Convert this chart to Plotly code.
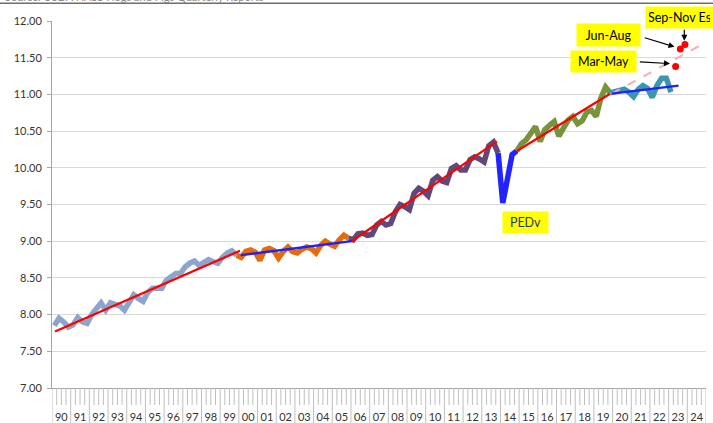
import plotly.graph_objects as go

# ---------------- data ----------------
years = list(range(1990, 2025))
year_labels = [f"{y % 100:02d}" for y in years]
quarters_per_year = 4  # Dec-Feb, Mar-May, Jun-Aug, Sep-Nov

# pigs per litter, quarterly, 1990 Dec-Feb .. 2023 Dec-Feb
pigs_per_litter = [
    7.85, 7.95, 7.90, 7.83,    # 1990
    7.86, 7.96, 7.90, 7.88,    # 1991
    8.00, 8.08, 8.16, 8.06,    # 1992
    8.16, 8.14, 8.12, 8.06,    # 1993
    8.15, 8.27, 8.22, 8.18,    # 1994
    8.30, 8.36, 8.36, 8.36,    # 1995
    8.47, 8.52, 8.56, 8.56,    # 1996
    8.65, 8.70, 8.73, 8.67,    # 1997
    8.71, 8.75, 8.72, 8.70,    # 1998
    8.78, 8.84, 8.87, 8.81,    # 1999
    8.78, 8.86, 8.88, 8.85,    # 2000
    8.74, 8.88, 8.90, 8.87,    # 2001
    8.77, 8.86, 8.92, 8.86,    # 2002
    8.84, 8.89, 8.92, 8.90,    # 2003
    8.84, 8.94, 9.00, 8.96,    # 2004
    8.93, 9.02, 9.08, 9.04,    # 2005
    9.02, 9.10, 9.11, 9.08,    # 2006
    9.09, 9.22, 9.27, 9.22,    # 2007
    9.24, 9.40, 9.50, 9.47,    # 2008
    9.43, 9.65, 9.72, 9.68,    # 2009
    9.62, 9.83, 9.88, 9.82,    # 2010
    9.80, 9.99, 10.03, 9.97,   # 2011
    9.97, 10.11, 10.15, 10.12, # 2012
    10.08, 10.30, 10.35, 10.20,# 2013
    9.52, 9.85, 10.18, 10.23,  # 2014
    10.33, 10.38, 10.47, 10.56,# 2015
    10.36, 10.52, 10.58, 10.63,# 2016
    10.43, 10.53, 10.65, 10.70,# 2017
    10.60, 10.64, 10.76, 10.78,# 2018
    10.70, 10.95, 11.10, 11.02,# 2019
    11.04, 11.06, 11.07, 11.03,# 2020
    10.97, 11.07, 11.12, 11.08,# 2021
    10.96, 11.12, 11.22, 11.22,# 2022
    11.03,                     # 2023
]

# coloured periods: (first index, last index) into pigs_per_litter
period_start = [0, 39, 63, 95, 99, 119]
period_end = [39, 63, 95, 99, 119, 132]

# trend lines (x in years, y in pigs per litter)
trend_red_x = [[1990.16, 2000.06], [2006.04, 2013.81], [2014.88, 2019.87]]
trend_red_y = [[7.77, 8.87], [9.00, 10.36], [10.23, 11.01]]
trend_blue_x = [[2000.10, 2006.04], [2019.96, 2023.53]]
trend_blue_y = [[8.81, 9.00], [11.01, 11.12]]
trend_proj_x = [2019.96, 2025.0]
trend_proj_y = [11.01, 11.71]

# 2023 estimates
est_labels = ["Mar-May", "Jun-Aug", "Sep-Nov Es"]
est_quarter = [1, 2, 3]
est_year = 2023
est_values = [11.38, 11.62, 11.68]

# ---------------- styles ----------------
period_colors = ["#8CA5CD", "#E46C0A", "#60497A", "#2323FF", "#77933C", "#3C96AF"]
FONT = "Lato, 'Liberation Sans', Arial, sans-serif"

W, H = 713, 423
ML, MR, MT, MB = 52, 7, 21, 35
PW, PH = W - ML - MR, H - MT - MB
X0, X1 = 1990, 2025
Y0, Y1 = 7.0, 12.0


def xp(px):
    return (px - ML) / PW


def yp(py):
    return 1 - (py - MT) / PH


qx = [years[0] + (i + 0.5) / quarters_per_year for i in range(len(pigs_per_litter))]

fig = go.Figure()

for s, e, c in zip(period_start, period_end, period_colors):
    fig.add_trace(go.Scatter(
        x=qx[s:e + 1], y=pigs_per_litter[s:e + 1], mode="lines",
        line=dict(color=c, width=5.5), hoverinfo="skip", showlegend=False))

fig.add_trace(go.Scatter(
    x=trend_proj_x, y=trend_proj_y, mode="lines",
    line=dict(color="#F4B4B4", width=2.2, dash="dash"),
    hoverinfo="skip", showlegend=False))

for tx, ty in zip(trend_red_x, trend_red_y):
    fig.add_trace(go.Scatter(x=tx, y=ty, mode="lines",
                             line=dict(color="#FF0000", width=2.3),
                             hoverinfo="skip", showlegend=False))
for tx, ty in zip(trend_blue_x, trend_blue_y):
    fig.add_trace(go.Scatter(x=tx, y=ty, mode="lines",
                             line=dict(color="#1F1FFF", width=2.3),
                             hoverinfo="skip", showlegend=False))

est_x = [est_year + (q + 0.5) / quarters_per_year for q in est_quarter]
fig.add_trace(go.Scatter(x=est_x, y=est_values, mode="markers",
                         marker=dict(color="#FF0000", size=7),
                         hoverinfo="skip", showlegend=False, cliponaxis=False))

# ---------------- category-axis tick marks ----------------
shapes = []
for q in range((X1 - X0) * quarters_per_year + 1):
    xv = X0 + q / quarters_per_year
    major = q % quarters_per_year == 0
    ln = 35 if major else 17
    shapes.append(dict(type="line", xref="x", yref="paper", x0=xv, x1=xv,
                       y0=0, y1=-ln / PH,
                       line=dict(color="#BFBFBF", width=1)))
# header rule
shapes.append(dict(type="line", xref="paper", yref="paper",
                   x0=xp(0), x1=xp(W),
                   y0=yp(3.3), y1=yp(3.3),
                   line=dict(color="#6E6E6E", width=1.5)))

annotations = []
# header text (mostly cut off in the reference)
annotations.append(dict(xref="paper", yref="paper", x=xp(3),
                        y=yp(5), xanchor="left", yanchor="bottom",
                        text="Source: USDA NASS Hogs and Pigs Quarterly Reports",
                        showarrow=False, font=dict(family=FONT, size=11, color="#8A8A8A")))


def box(text, cx, cy, w, h, color="#000000"):
    annotations.append(dict(x=xp(cx), y=yp(cy), xref="paper", yref="paper",
                            xanchor="center", yanchor="middle",
                            text=text, showarrow=False, bgcolor="#FFFF00",
                            width=w - 6, height=h - 6, borderpad=3,
                            font=dict(family=FONT, size=12.5, color=color)))


def arrow(tail, tip):
    annotations.append(dict(x=xp(tip[0]), y=yp(tip[1]), xref="paper", yref="paper",
                            ax=tail[0] - tip[0], ay=tail[1] - tip[1],
                            text="", showarrow=True, arrowhead=2, arrowsize=1,
                            arrowwidth=1.2, arrowcolor="#000000", standoff=0))


box(est_labels[0], 603.2, 61.2, 65, 21)
box(est_labels[1], 608.7, 35.5, 63, 22)
box(est_labels[2], 679.5, 17.0, 67, 21)
box("PEDv", 525.5, 222.5, 45, 21, color="#1F3A7A")
arrow((638.3, 61.7), (670.0, 63.6))
arrow((643.3, 37.3), (674.5, 46.8))
arrow((684.3, 28.3), (684.3, 40.8))

fig.update_layout(
    width=W, height=H,
    margin=dict(l=ML, r=MR, t=MT, b=MB, pad=0, autoexpand=False),
    paper_bgcolor="white", plot_bgcolor="white",
    showlegend=False,
    font=dict(family=FONT, size=11, color="#333333"),
    shapes=shapes, annotations=annotations,
    xaxis=dict(range=[X0, X1], showgrid=False, zeroline=False,
               showline=True, linecolor="#A6A6A6", linewidth=1,
               tickmode="array", tickvals=[y + 0.5 for y in years],
               ticktext=year_labels, ticks="", ticklabelstandoff=19,
               automargin=False,
               tickfont=dict(family=FONT, size=11, color="#333333")),
    yaxis=dict(range=[Y0, Y1], dtick=0.5, tick0=7, tickformat=".2f",
               showgrid=True, gridcolor="#D9D9D9", gridwidth=1,
               zeroline=False, showline=True, linecolor="#A6A6A6",
               ticks="outside", ticklen=4, tickcolor="#A6A6A6",
               ticklabelstandoff=3, automargin=False,
               tickfont=dict(family=FONT, size=11, color="#333333")),
)

fig.write_html("out.html", config={"displayModeBar": False},
               post_script="document.body.style.margin='0';"
                           "document.body.style.overflow='hidden';")
